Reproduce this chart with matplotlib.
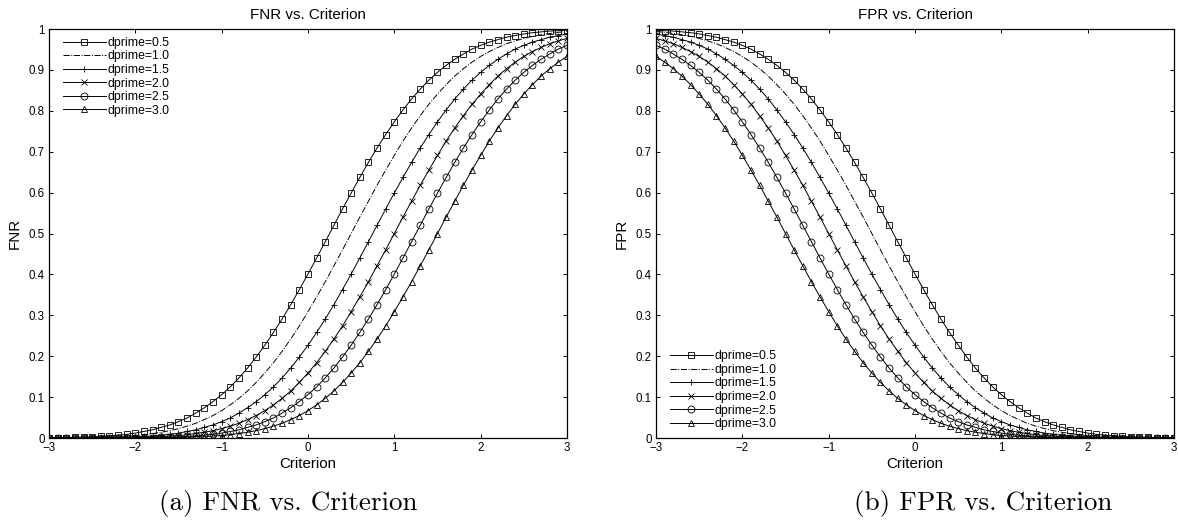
import numpy as np
import matplotlib
matplotlib.use("Agg")
import matplotlib.pyplot as plt
from matplotlib.ticker import FormatStrFormatter, MultipleLocator

plt.rcParams["font.family"] = ["Liberation Sans", "DejaVu Sans"]

# criterion grid, -3 .. 3 in steps of 0.1
criterion = np.linspace(-3, 3, 61)
dprimes = ["0.5", "1.0", "1.5", "2.0", "2.5", "3.0"]

fnr_05 = [0.001, 0.001, 0.001, 0.002, 0.002, 0.003, 0.004, 0.005, 0.007, 0.009,
          0.012, 0.016, 0.020, 0.026, 0.032, 0.040, 0.049, 0.061, 0.074, 0.089,
          0.106, 0.125, 0.147, 0.171, 0.198, 0.227, 0.258, 0.291, 0.326, 0.363,
          0.401, 0.440, 0.480, 0.520, 0.560, 0.599, 0.637, 0.674, 0.709, 0.742,
          0.773, 0.802, 0.829, 0.853, 0.875, 0.894, 0.911, 0.926, 0.939, 0.951,
          0.960, 0.968, 0.974, 0.980, 0.984, 0.988, 0.991, 0.993, 0.995, 0.996,
          0.997]
fnr_10 = [0.000, 0.000, 0.000, 0.001, 0.001, 0.001, 0.002, 0.003, 0.003, 0.005,
          0.006, 0.008, 0.011, 0.014, 0.018, 0.023, 0.029, 0.036, 0.045, 0.055,
          0.067, 0.081, 0.097, 0.115, 0.136, 0.159, 0.184, 0.212, 0.242, 0.274,
          0.309, 0.345, 0.382, 0.421, 0.460, 0.500, 0.540, 0.579, 0.618, 0.655,
          0.691, 0.726, 0.758, 0.788, 0.816, 0.841, 0.864, 0.885, 0.903, 0.919,
          0.933, 0.945, 0.955, 0.964, 0.971, 0.977, 0.982, 0.986, 0.989, 0.992,
          0.994]
fnr_15 = [0.000, 0.000, 0.000, 0.000, 0.000, 0.001, 0.001, 0.001, 0.002, 0.002,
          0.003, 0.004, 0.005, 0.007, 0.009, 0.012, 0.016, 0.020, 0.026, 0.032,
          0.040, 0.049, 0.061, 0.074, 0.089, 0.106, 0.125, 0.147, 0.171, 0.198,
          0.227, 0.258, 0.291, 0.326, 0.363, 0.401, 0.440, 0.480, 0.520, 0.560,
          0.599, 0.637, 0.674, 0.709, 0.742, 0.773, 0.802, 0.829, 0.853, 0.875,
          0.894, 0.911, 0.926, 0.939, 0.951, 0.960, 0.968, 0.974, 0.980, 0.984,
          0.988]
fnr_20 = [0.000, 0.000, 0.000, 0.000, 0.000, 0.000, 0.000, 0.000, 0.001, 0.001,
          0.001, 0.002, 0.003, 0.003, 0.005, 0.006, 0.008, 0.011, 0.014, 0.018,
          0.023, 0.029, 0.036, 0.045, 0.055, 0.067, 0.081, 0.097, 0.115, 0.136,
          0.159, 0.184, 0.212, 0.242, 0.274, 0.309, 0.345, 0.382, 0.421, 0.460,
          0.500, 0.540, 0.579, 0.618, 0.655, 0.691, 0.726, 0.758, 0.788, 0.816,
          0.841, 0.864, 0.885, 0.903, 0.919, 0.933, 0.945, 0.955, 0.964, 0.971,
          0.977]
fnr_25 = [0.000, 0.000, 0.000, 0.000, 0.000, 0.000, 0.000, 0.000, 0.000, 0.000,
          0.001, 0.001, 0.001, 0.002, 0.002, 0.003, 0.004, 0.005, 0.007, 0.009,
          0.012, 0.016, 0.020, 0.026, 0.032, 0.040, 0.049, 0.061, 0.074, 0.089,
          0.106, 0.125, 0.147, 0.171, 0.198, 0.227, 0.258, 0.291, 0.326, 0.363,
          0.401, 0.440, 0.480, 0.520, 0.560, 0.599, 0.637, 0.674, 0.709, 0.742,
          0.773, 0.802, 0.829, 0.853, 0.875, 0.894, 0.911, 0.926, 0.939, 0.951,
          0.960]
fnr_30 = [0.000, 0.000, 0.000, 0.000, 0.000, 0.000, 0.000, 0.000, 0.000, 0.000,
          0.000, 0.000, 0.000, 0.001, 0.001, 0.001, 0.002, 0.003, 0.003, 0.005,
          0.006, 0.008, 0.011, 0.014, 0.018, 0.023, 0.029, 0.036, 0.045, 0.055,
          0.067, 0.081, 0.097, 0.115, 0.136, 0.159, 0.184, 0.212, 0.242, 0.274,
          0.309, 0.345, 0.382, 0.421, 0.460, 0.500, 0.540, 0.579, 0.618, 0.655,
          0.691, 0.726, 0.758, 0.788, 0.816, 0.841, 0.864, 0.885, 0.903, 0.919,
          0.933]

fpr_05 = [0.997, 0.996, 0.995, 0.993, 0.991, 0.988, 0.984, 0.980, 0.974, 0.968,
          0.960, 0.951, 0.939, 0.926, 0.911, 0.894, 0.875, 0.853, 0.829, 0.802,
          0.773, 0.742, 0.709, 0.674, 0.637, 0.599, 0.560, 0.520, 0.480, 0.440,
          0.401, 0.363, 0.326, 0.291, 0.258, 0.227, 0.198, 0.171, 0.147, 0.125,
          0.106, 0.089, 0.074, 0.061, 0.049, 0.040, 0.032, 0.026, 0.020, 0.016,
          0.012, 0.009, 0.007, 0.005, 0.004, 0.003, 0.002, 0.002, 0.001, 0.001,
          0.001]
fpr_10 = [0.994, 0.992, 0.989, 0.986, 0.982, 0.977, 0.971, 0.964, 0.955, 0.945,
          0.933, 0.919, 0.903, 0.885, 0.864, 0.841, 0.816, 0.788, 0.758, 0.726,
          0.691, 0.655, 0.618, 0.579, 0.540, 0.500, 0.460, 0.421, 0.382, 0.345,
          0.309, 0.274, 0.242, 0.212, 0.184, 0.159, 0.136, 0.115, 0.097, 0.081,
          0.067, 0.055, 0.045, 0.036, 0.029, 0.023, 0.018, 0.014, 0.011, 0.008,
          0.006, 0.005, 0.003, 0.003, 0.002, 0.001, 0.001, 0.001, 0.000, 0.000,
          0.000]
fpr_15 = [0.988, 0.984, 0.980, 0.974, 0.968, 0.960, 0.951, 0.939, 0.926, 0.911,
          0.894, 0.875, 0.853, 0.829, 0.802, 0.773, 0.742, 0.709, 0.674, 0.637,
          0.599, 0.560, 0.520, 0.480, 0.440, 0.401, 0.363, 0.326, 0.291, 0.258,
          0.227, 0.198, 0.171, 0.147, 0.125, 0.106, 0.089, 0.074, 0.061, 0.049,
          0.040, 0.032, 0.026, 0.020, 0.016, 0.012, 0.009, 0.007, 0.005, 0.004,
          0.003, 0.002, 0.002, 0.001, 0.001, 0.001, 0.000, 0.000, 0.000, 0.000,
          0.000]
fpr_20 = [0.977, 0.971, 0.964, 0.955, 0.945, 0.933, 0.919, 0.903, 0.885, 0.864,
          0.841, 0.816, 0.788, 0.758, 0.726, 0.691, 0.655, 0.618, 0.579, 0.540,
          0.500, 0.460, 0.421, 0.382, 0.345, 0.309, 0.274, 0.242, 0.212, 0.184,
          0.159, 0.136, 0.115, 0.097, 0.081, 0.067, 0.055, 0.045, 0.036, 0.029,
          0.023, 0.018, 0.014, 0.011, 0.008, 0.006, 0.005, 0.003, 0.003, 0.002,
          0.001, 0.001, 0.001, 0.000, 0.000, 0.000, 0.000, 0.000, 0.000, 0.000,
          0.000]
fpr_25 = [0.960, 0.951, 0.939, 0.926, 0.911, 0.894, 0.875, 0.853, 0.829, 0.802,
          0.773, 0.742, 0.709, 0.674, 0.637, 0.599, 0.560, 0.520, 0.480, 0.440,
          0.401, 0.363, 0.326, 0.291, 0.258, 0.227, 0.198, 0.171, 0.147, 0.125,
          0.106, 0.089, 0.074, 0.061, 0.049, 0.040, 0.032, 0.026, 0.020, 0.016,
          0.012, 0.009, 0.007, 0.005, 0.004, 0.003, 0.002, 0.002, 0.001, 0.001,
          0.001, 0.000, 0.000, 0.000, 0.000, 0.000, 0.000, 0.000, 0.000, 0.000,
          0.000]
fpr_30 = [0.933, 0.919, 0.903, 0.885, 0.864, 0.841, 0.816, 0.788, 0.758, 0.726,
          0.691, 0.655, 0.618, 0.579, 0.540, 0.500, 0.460, 0.421, 0.382, 0.345,
          0.309, 0.274, 0.242, 0.212, 0.184, 0.159, 0.136, 0.115, 0.097, 0.081,
          0.067, 0.055, 0.045, 0.036, 0.029, 0.023, 0.018, 0.014, 0.011, 0.008,
          0.006, 0.005, 0.003, 0.003, 0.002, 0.001, 0.001, 0.001, 0.000, 0.000,
          0.000, 0.000, 0.000, 0.000, 0.000, 0.000, 0.000, 0.000, 0.000, 0.000,
          0.000]

fnr_curves = [fnr_05, fnr_10, fnr_15, fnr_20, fnr_25, fnr_30]
fpr_curves = [fpr_05, fpr_10, fpr_15, fpr_20, fpr_25, fpr_30]

# matlab-style line specs: marker / line style per dprime
styles = [("s", "-"), (None, "-."), ("+", "-"), ("x", "-"), ("o", "-"), ("^", "-")]


def draw_panel(ax, curves, ylabel, title, legend_anchor):
    for label, values, (marker, ls) in zip(dprimes, curves, styles):
        ax.plot(criterion, values, color="black", linestyle=ls, linewidth=0.7,
                marker=marker, markersize=5, markerfacecolor="none",
                markeredgewidth=0.6, label="dprime=" + label)
    ax.set_xlim(-3, 3)
    ax.set_ylim(0, 1)
    ax.xaxis.set_major_locator(MultipleLocator(1))
    ax.yaxis.set_major_locator(MultipleLocator(0.1))
    ax.yaxis.set_major_formatter(FormatStrFormatter("%g"))
    ax.tick_params(direction="in", length=3, width=0.7, labelsize=8.3,
                   top=True, right=True, pad=3)
    for spine in ax.spines.values():
        spine.set_linewidth(0.9)
    ax.set_xlabel("Criterion", fontsize=10.9, labelpad=2)
    ax.set_ylabel(ylabel, fontsize=10.9, labelpad=5)
    ax.set_title(title, fontsize=10.9, pad=7)
    ax.legend(loc=legend_anchor[0], bbox_to_anchor=legend_anchor[1],
              frameon=False, fontsize=8.8, handlelength=3.5, handletextpad=0.15,
              labelspacing=0.13, borderaxespad=0, borderpad=0)


fig = plt.figure(figsize=(11.78, 5.21), dpi=100)
ax_fnr = fig.add_axes([0.0416, 0.1593, 0.4397, 0.785])
ax_fpr = fig.add_axes([0.5569, 0.1593, 0.4397, 0.785])

draw_panel(ax_fnr, fnr_curves, "FNR", "FNR vs. Criterion",
           ("upper left", (0.027, 0.981)))
draw_panel(ax_fpr, fpr_curves, "FPR", "FPR vs. Criterion",
           ("lower left", (0.027, 0.019)))

fig.text(0.2445, 0.0336, "(a) FNR vs. Criterion", family="cmr10",
         fontsize=19.5, ha="center", va="center")
fig.text(0.835, 0.0336, "(b) FPR vs. Criterion", family="cmr10",
         fontsize=19.5, ha="center", va="center")

fig.savefig("out.png", dpi=100)
